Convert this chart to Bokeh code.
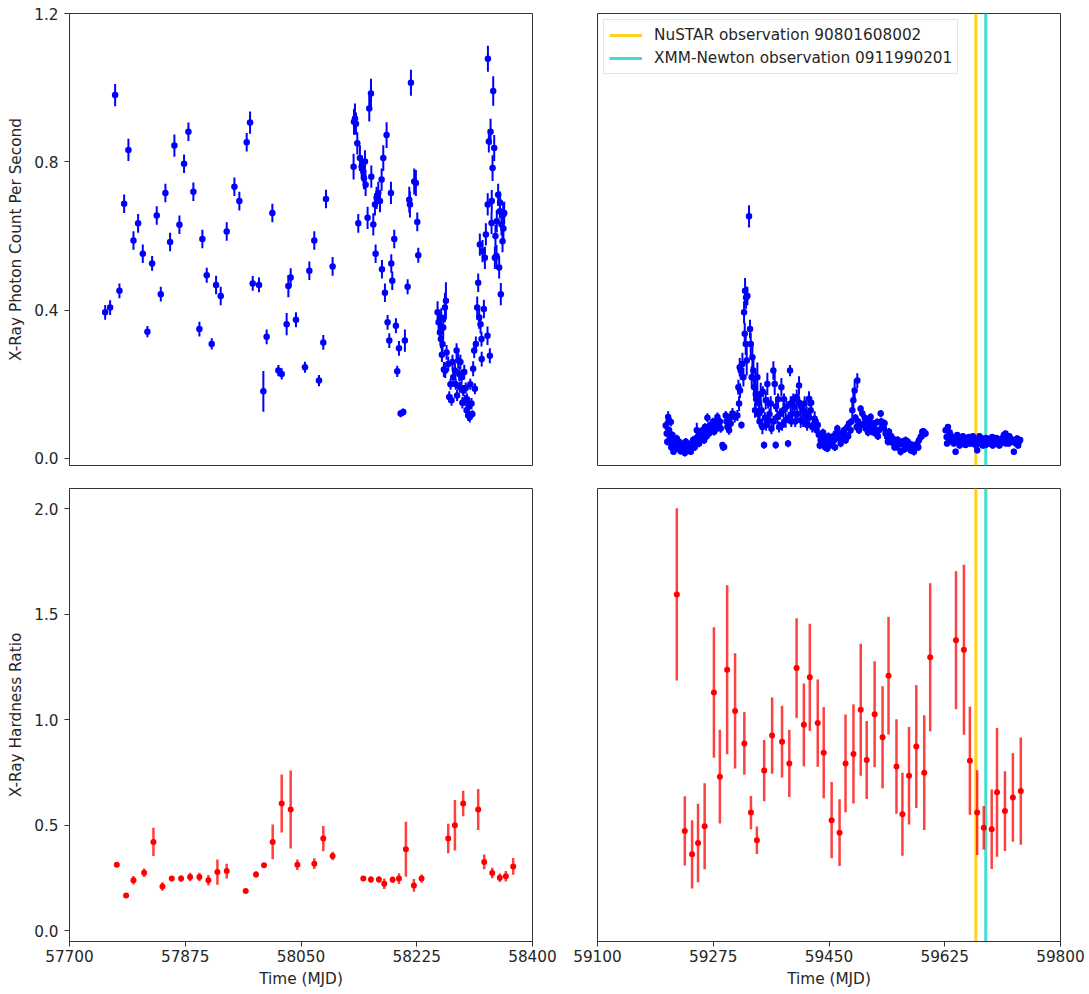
from bokeh.plotting import figure
from bokeh.models import (ColumnDataSource, Legend, LegendItem, FixedTicker,
                          Range1d, PrintfTickFormatter)
from bokeh.layouts import column, row
from bokeh.embed import file_html
from bokeh.resources import INLINE

FONT = "DejaVu Sans"

# ---------------- data ----------------
left_xticks = [57700, 57875, 58050, 58225, 58400]
right_xticks = [59100, 59275, 59450, 59625, 59800]
rate_yticks = [0.0, 0.4, 0.8, 1.2]
hr_yticks = [0.0, 0.5, 1.0, 1.5, 2.0]

nustar_mjd = 59672
xmm_mjd = 59687
nustar_label = "NuSTAR observation 90801608002"
xmm_label = "XMM-Newton observation 0911990201"

# top-left: count rate, 2016-2018 epoch
tl_mjd_a = [57753.9, 57761.4, 57769.0, 57775.5, 57782.6, 57789.1, 57796.7, 57803.7, 57810.8, 57817.8,
            57824.9, 57831.9, 57838.0, 57845.0, 57852.1, 57858.6, 57866.2, 57873.2, 57879.8, 57887.3,
            57896.4, 57900.9, 57907.5, 57915.0, 57921.6, 57928.6, 57937.7, 57949.3, 57956.8, 57967.9,
            57973.0, 57977.0, 57986.5, 57993.1, 57998.1, 58006.7, 58015.8, 58020.8, 58028.3, 58030.9,
            58034.4, 58042.4, 58056.0, 58062.6, 58070.1, 58077.2, 58083.7, 58087.8, 58097.8]
tl_rate_a = [0.394, 0.407, 0.980, 0.452, 0.687, 0.832, 0.588, 0.634, 0.552, 0.342,
             0.526, 0.655, 0.443, 0.716, 0.584, 0.844, 0.630, 0.795, 0.881, 0.719,
             0.349, 0.592, 0.494, 0.309, 0.468, 0.438, 0.612, 0.733, 0.694, 0.853,
             0.906, 0.472, 0.468, 0.181, 0.328, 0.662, 0.237, 0.228, 0.362, 0.465,
             0.488, 0.374, 0.246, 0.506, 0.588, 0.210, 0.313, 0.700, 0.518]
tl_err_a = [0.02, 0.02, 0.03, 0.02, 0.025, 0.03, 0.025, 0.025, 0.025, 0.015,
            0.02, 0.025, 0.02, 0.025, 0.025, 0.03, 0.025, 0.025, 0.025, 0.025,
            0.02, 0.025, 0.02, 0.015, 0.025, 0.025, 0.025, 0.025, 0.025, 0.025,
            0.03, 0.02, 0.02, 0.055, 0.02, 0.025, 0.015, 0.015, 0.03, 0.03,
            0.025, 0.02, 0.015, 0.025, 0.025, 0.015, 0.02, 0.025, 0.025]

tl_mjd_b = [58129.5, 58130.1, 58131.6, 58133.1, 58135.1, 58136.6, 58139.1, 58141.7, 58144.2, 58145.2,
            58146.7, 58147.7, 58150.7, 58153.2, 58155.8, 58156.3, 58159.3, 58161.8, 58162.8, 58164.3,
            58166.8, 58169.4, 58171.9, 58172.4, 58174.4, 58176.9, 58179.4, 58180.9, 58183.5, 58186.0,
            58186.5, 58188.0, 58191.0, 58193.5, 58195.5, 58198.1, 58200.6, 58204.6, 58207.1, 58211.2,
            58213.7, 58214.7, 58216.2, 58221.2, 58223.7, 58225.8, 58227.3]
tl_rate_b = [0.787, 0.908, 0.917, 0.903, 0.850, 0.634, 0.810, 0.787, 0.774, 0.756,
             0.801, 0.738, 0.649, 0.944, 0.984, 0.760, 0.631, 0.685, 0.552, 0.703,
             0.716, 0.694, 0.752, 0.510, 0.810, 0.447, 0.872, 0.367, 0.318, 0.716,
             0.526, 0.479, 0.592, 0.358, 0.235, 0.297, 0.121, 0.125, 0.318, 0.463,
             0.698, 0.685, 1.013, 0.747, 0.743, 0.638, 0.548]
tl_err_b = [0.035, 0.035, 0.04, 0.03, 0.03, 0.025, 0.035, 0.03, 0.03, 0.03,
            0.03, 0.03, 0.03, 0.035, 0.04, 0.03, 0.03, 0.03, 0.025, 0.03,
            0.03, 0.03, 0.03, 0.025, 0.035, 0.025, 0.035, 0.02, 0.02, 0.03,
            0.025, 0.025, 0.025, 0.02, 0.015, 0.02, 0.01, 0.01, 0.03, 0.02,
            0.035, 0.035, 0.035, 0.035, 0.035, 0.025, 0.02]

tl_mjd_c = [58256.5, 58258.0, 58260.0, 58261.5, 58264.0, 58265.0, 58267.6, 58268.1, 58269.1, 58270.1,
            58272.6, 58274.1, 58277.6, 58280.2, 58282.7, 58285.2, 58287.7, 58289.2, 58290.2, 58292.7,
            58295.3, 58296.8, 58297.8, 58300.3, 58302.8, 58305.3, 58307.8, 58310.3, 58311.9, 58312.9,
            58314.4, 58316.4, 58317.9, 58319.4, 58320.4, 58321.4, 58322.9, 58323.2, 58324.5, 58326.5,
            58328.0, 58329.5, 58332.0, 58332.3, 58332.6, 58334.0, 58335.5, 58336.6, 58338.1, 58338.4,
            58339.6, 58340.6, 58342.1, 58343.1, 58345.6, 58348.1, 58349.6, 58350.6, 58352.1, 58353.1,
            58354.7, 58355.7, 58357.2,
            58262.0, 58263.0, 58266.0, 58276.0, 58279.0, 58284.0, 58286.0, 58291.0, 58294.0, 58299.0,
            58301.0, 58304.0, 58306.0, 58309.0, 58344.0, 58346.0, 58351.0, 58356.0]
tl_rate_c = [0.394, 0.367, 0.340, 0.322, 0.309, 0.353, 0.407, 0.237, 0.425, 0.286,
             0.255, 0.166, 0.157, 0.219, 0.237, 0.291, 0.264, 0.228, 0.192, 0.219,
             0.183, 0.233, 0.157, 0.130, 0.116, 0.112, 0.148, 0.242, 0.291, 0.188,
             0.309, 0.407, 0.474, 0.380, 0.577, 0.362, 0.322, 0.268, 0.559, 0.403,
             0.541, 0.604, 0.331, 0.685, 1.078, 0.855, 0.277, 0.881, 0.635, 0.694,
             0.783, 0.991, 0.837, 0.541, 0.546, 0.711, 0.515, 0.667, 0.443, 0.631,
             0.586, 0.658, 0.662,
             0.38, 0.28, 0.24, 0.20, 0.26, 0.20, 0.17, 0.26, 0.15, 0.19,
             0.16, 0.14, 0.20, 0.12, 0.60, 0.64, 0.69, 0.62]
tl_err_c = [0.03, 0.03, 0.025, 0.025, 0.02, 0.03, 0.04, 0.02, 0.05, 0.02,
            0.02, 0.015, 0.015, 0.02, 0.02, 0.02, 0.02, 0.02, 0.015, 0.02,
            0.015, 0.02, 0.015, 0.015, 0.015, 0.015, 0.015, 0.02, 0.02, 0.015,
            0.02, 0.03, 0.025, 0.03, 0.03, 0.025, 0.02, 0.02, 0.03, 0.025,
            0.03, 0.03, 0.025, 0.03, 0.035, 0.03, 0.02, 0.035, 0.03, 0.03,
            0.035, 0.04, 0.035, 0.03, 0.03, 0.03, 0.03, 0.02, 0.03, 0.03,
            0.03, 0.03, 0.03,
            0.025, 0.02, 0.02, 0.015, 0.02, 0.015, 0.015, 0.02, 0.015, 0.015,
            0.015, 0.015, 0.015, 0.01, 0.03, 0.03, 0.03, 0.03]

# top-right: count rate, 2021-2022 epoch
tr_mjd_a = [59203.2, 59204.7, 59206.8, 59208.3, 59209.8, 59210.8, 59212.3, 59213.3, 59214.8, 59216.8,
            59218.3, 59219.9, 59221.9, 59223.4, 59224.9, 59226.9, 59228.4, 59230.9, 59233.5, 59236.0,
            59238.5, 59241.0, 59243.5, 59246.0, 59248.6, 59250.1, 59251.1, 59253.6, 59256.1, 59258.6,
            59261.2, 59263.7, 59266.2, 59268.7, 59271.2, 59273.7, 59276.3, 59278.8, 59281.3, 59283.8,
            59286.3, 59288.9, 59291.4, 59293.9, 59296.4, 59298.9, 59301.4,
            59205.5, 59207.5, 59211.5, 59215.5, 59217.5, 59220.5, 59222.5, 59225.5, 59229.5, 59232.0,
            59234.5, 59237.0, 59239.5, 59242.0, 59244.5, 59247.0, 59249.5, 59252.5, 59255.0, 59257.5,
            59260.0, 59262.5, 59265.0, 59270.0, 59275.0, 59280.0, 59285.0, 59290.0, 59295.0, 59300.0]
tr_rate_a = [0.089, 0.067, 0.112, 0.076, 0.054, 0.098, 0.040, 0.063, 0.018, 0.049,
             0.031, 0.054, 0.040, 0.045, 0.027, 0.040, 0.036, 0.031, 0.045, 0.022,
             0.036, 0.018, 0.031, 0.040, 0.045, 0.076, 0.049, 0.040, 0.058, 0.063,
             0.049, 0.072, 0.110, 0.067, 0.081, 0.085, 0.072, 0.094, 0.112, 0.089,
             0.081, 0.036, 0.031, 0.116, 0.085, 0.076, 0.094,
             0.045, 0.100, 0.030, 0.035, 0.025, 0.035, 0.030, 0.020, 0.025, 0.015,
             0.030, 0.040, 0.025, 0.035, 0.050, 0.030, 0.055, 0.060, 0.050, 0.075,
             0.070, 0.085, 0.060, 0.090, 0.100, 0.080, 0.100, 0.030, 0.100, 0.110]
tr_err_a = [0.012, 0.010, 0.015, 0.010, 0.010, 0.012, 0.008, 0.010, 0.008, 0.010,
            0.008, 0.010, 0.008, 0.010, 0.008, 0.008, 0.008, 0.008, 0.010, 0.008,
            0.008, 0.008, 0.008, 0.010, 0.010, 0.020, 0.010, 0.010, 0.010, 0.010,
            0.010, 0.012, 0.012, 0.010, 0.012, 0.012, 0.010, 0.012, 0.012, 0.012,
            0.012, 0.008, 0.008, 0.012, 0.012, 0.012, 0.012,
            0.010, 0.010, 0.010, 0.010, 0.010, 0.010, 0.010, 0.010, 0.010, 0.010,
            0.010, 0.010, 0.010, 0.010, 0.010, 0.010, 0.010, 0.010, 0.010, 0.010,
            0.010, 0.010, 0.010, 0.010, 0.010, 0.010, 0.010, 0.010, 0.010, 0.010]

tr_mjd_b = [59304.0, 59307.5, 59311.5, 59313.0, 59314.0, 59315.0, 59315.5, 59316.5, 59317.6, 59319.1,
            59320.6, 59321.6, 59322.6, 59323.1, 59324.1, 59324.6, 59325.6, 59326.6, 59329.1, 59330.6,
            59331.7, 59333.2, 59334.2, 59335.7, 59336.7, 59338.2, 59339.2, 59341.7, 59344.2, 59346.8,
            59349.3, 59351.8, 59354.3, 59356.8, 59359.4, 59361.9, 59365.9, 59367.9, 59369.4, 59371.9,
            59374.5, 59378.0, 59381.0, 59384.5, 59388.1, 59391.1, 59392.1, 59394.6, 59398.1, 59401.2,
            59404.7, 59407.2, 59409.7, 59413.2, 59416.3, 59419.8, 59422.3, 59424.8, 59428.3, 59431.4,
            59340.0, 59343.0, 59345.0, 59348.0, 59350.0, 59353.0, 59355.0, 59358.0, 59360.0, 59363.0,
            59366.0, 59370.0, 59373.0, 59376.0, 59379.0, 59382.0, 59386.0, 59389.0, 59393.0, 59396.0,
            59399.0, 59402.0, 59405.0, 59408.0, 59411.0, 59414.0, 59417.0, 59420.0, 59423.0, 59426.0,
            59429.0, 59433.0]
tr_rate_b = [0.121, 0.112, 0.116, 0.192, 0.148, 0.246, 0.183, 0.237, 0.090, 0.255,
             0.219, 0.394, 0.336, 0.452, 0.309, 0.434, 0.264, 0.438, 0.653, 0.349,
             0.309, 0.219, 0.273, 0.237, 0.192, 0.130, 0.174, 0.219, 0.148, 0.174,
             0.085, 0.036, 0.157, 0.201, 0.103, 0.148, 0.237, 0.201, 0.036, 0.112,
             0.085, 0.192, 0.130, 0.103, 0.040, 0.237, 0.148, 0.121, 0.139, 0.166,
             0.197, 0.103, 0.130, 0.148, 0.121, 0.161, 0.130, 0.085, 0.107, 0.076,
             0.16, 0.12, 0.10, 0.13, 0.18, 0.11, 0.09, 0.15, 0.12, 0.08,
             0.10, 0.14, 0.16, 0.12, 0.09, 0.16, 0.14, 0.11, 0.10, 0.16,
             0.10, 0.12, 0.15, 0.14, 0.10, 0.12, 0.09, 0.11, 0.15, 0.09,
             0.10, 0.09]
tr_err_b = [0.015, 0.015, 0.015, 0.02, 0.02, 0.025, 0.02, 0.025, 0.01, 0.03,
            0.025, 0.03, 0.03, 0.035, 0.03, 0.03, 0.04, 0.025, 0.03, 0.025,
            0.03, 0.03, 0.04, 0.03, 0.03, 0.02, 0.06, 0.04, 0.03, 0.03,
            0.02, 0.01, 0.025, 0.03, 0.02, 0.02, 0.025, 0.03, 0.01, 0.02,
            0.015, 0.025, 0.02, 0.02, 0.01, 0.015, 0.02, 0.02, 0.02, 0.02,
            0.025, 0.02, 0.02, 0.02, 0.02, 0.02, 0.02, 0.015, 0.02, 0.015,
            0.015, 0.015, 0.015, 0.015, 0.015, 0.015, 0.015, 0.015, 0.015, 0.015,
            0.015, 0.015, 0.015, 0.015, 0.015, 0.015, 0.015, 0.015, 0.015, 0.015,
            0.015, 0.015, 0.015, 0.015, 0.015, 0.015, 0.015, 0.015, 0.015, 0.015,
            0.015, 0.015]

tr_mjd_c = [59434.9, 59437.4, 59439.9, 59442.4, 59445.0, 59447.5, 59450.0, 59452.5, 59455.0, 59457.6,
            59460.1, 59462.6, 59465.1, 59467.6, 59470.1, 59472.7, 59475.2, 59477.7, 59480.2, 59482.7,
            59485.3, 59486.8, 59488.8, 59491.8, 59492.8, 59495.3, 59497.8, 59500.4, 59502.9, 59505.4,
            59507.9, 59510.4, 59512.9, 59515.5, 59518.0, 59520.5, 59523.0, 59525.5, 59528.1, 59530.6,
            59533.1, 59535.6, 59538.1, 59540.7, 59543.2, 59545.7, 59548.2, 59550.7, 59553.2, 59555.8,
            59558.3, 59560.8, 59563.3, 59565.8, 59568.3, 59570.9, 59573.4, 59575.9, 59578.4, 59580.9,
            59583.5, 59586.0, 59588.5, 59591.0, 59593.5, 59596.0,
            59436.0, 59441.0, 59444.0, 59449.0, 59454.0, 59459.0, 59464.0, 59469.0, 59474.0, 59479.0,
            59484.0, 59490.0, 59494.0, 59499.0, 59504.0, 59509.0, 59514.0, 59519.0, 59524.0, 59529.0,
            59534.0, 59539.0, 59544.0, 59549.0, 59554.0, 59559.0, 59564.0, 59569.0, 59574.0, 59579.0,
            59585.0, 59590.0]
tr_rate_c = [0.063, 0.049, 0.058, 0.040, 0.054, 0.027, 0.045, 0.036, 0.058, 0.049,
             0.067, 0.081, 0.054, 0.040, 0.063, 0.076, 0.049, 0.085, 0.094, 0.076,
             0.130, 0.157, 0.183, 0.085, 0.210, 0.076, 0.134, 0.121, 0.094, 0.081,
             0.103, 0.085, 0.112, 0.072, 0.094, 0.067, 0.098, 0.076, 0.121, 0.089,
             0.081, 0.067, 0.058, 0.072, 0.045, 0.054, 0.040, 0.049, 0.031, 0.040,
             0.018, 0.045, 0.036, 0.049, 0.031, 0.040, 0.022, 0.036, 0.018, 0.031,
             0.040, 0.049, 0.058, 0.072, 0.072, 0.067,
             0.035, 0.070, 0.030, 0.060, 0.040, 0.030, 0.070, 0.050, 0.065, 0.060,
             0.100, 0.110, 0.100, 0.090, 0.110, 0.070, 0.095, 0.080, 0.060, 0.100,
             0.095, 0.045, 0.060, 0.030, 0.050, 0.040, 0.025, 0.045, 0.035, 0.028,
             0.030, 0.060]
tr_err_c = [0.010, 0.010, 0.010, 0.010, 0.010, 0.010, 0.010, 0.010, 0.010, 0.010,
            0.010, 0.010, 0.010, 0.010, 0.010, 0.010, 0.010, 0.010, 0.010, 0.010,
            0.020, 0.020, 0.030, 0.010, 0.020, 0.010, 0.010, 0.010, 0.010, 0.010,
            0.010, 0.010, 0.010, 0.010, 0.010, 0.010, 0.010, 0.010, 0.010, 0.010,
            0.010, 0.010, 0.010, 0.010, 0.010, 0.010, 0.010, 0.010, 0.010, 0.010,
            0.010, 0.010, 0.010, 0.010, 0.010, 0.010, 0.010, 0.010, 0.010, 0.010,
            0.010, 0.010, 0.010, 0.010, 0.010, 0.010,
            0.010, 0.010, 0.010, 0.010, 0.010, 0.010, 0.010, 0.010, 0.010, 0.010,
            0.010, 0.010, 0.010, 0.010, 0.010, 0.010, 0.010, 0.010, 0.010, 0.010,
            0.010, 0.010, 0.010, 0.010, 0.010, 0.010, 0.010, 0.010, 0.010, 0.010,
            0.010, 0.010]

tr_mjd_d = [59626.3, 59627.8, 59629.8, 59631.3, 59633.8, 59636.3, 59638.9, 59641.4, 59643.9, 59646.4,
            59648.9, 59651.4, 59654.0, 59656.5, 59659.0, 59661.5, 59664.0, 59666.6, 59669.1, 59671.6,
            59674.1, 59676.6, 59679.1, 59681.7, 59684.2, 59686.7, 59689.2, 59691.7, 59694.2, 59696.8,
            59699.3, 59701.8, 59704.3, 59706.8, 59709.4, 59711.9, 59714.4, 59716.9, 59719.4, 59721.9,
            59724.5, 59727.0, 59729.5, 59732.0, 59734.5, 59737.1,
            59628.5, 59632.5, 59637.5, 59642.5, 59647.5, 59652.5, 59657.5, 59662.5, 59667.5, 59672.5,
            59677.5, 59682.5, 59687.5, 59692.5, 59697.5, 59702.5, 59707.5, 59712.5, 59717.5, 59722.5,
            59727.5, 59732.5, 59736.0, 59739.0]
tr_rate_d = [0.076, 0.058, 0.085, 0.049, 0.063, 0.045, 0.040, 0.018, 0.063, 0.054,
             0.049, 0.040, 0.054, 0.036, 0.045, 0.058, 0.049, 0.040, 0.054, 0.045,
             0.022, 0.049, 0.040, 0.054, 0.045, 0.036, 0.049, 0.040, 0.054, 0.058,
             0.045, 0.040, 0.054, 0.045, 0.040, 0.049, 0.063, 0.067, 0.049, 0.040,
             0.054, 0.045, 0.018, 0.049, 0.054, 0.045,
             0.040, 0.070, 0.055, 0.050, 0.035, 0.060, 0.050, 0.040, 0.060, 0.035,
             0.060, 0.035, 0.055, 0.050, 0.035, 0.055, 0.035, 0.055, 0.040, 0.060,
             0.050, 0.040, 0.035, 0.050]
tr_err_d = [0.008, 0.008, 0.008, 0.008, 0.008, 0.008, 0.008, 0.008, 0.008, 0.008,
            0.008, 0.008, 0.008, 0.008, 0.008, 0.008, 0.008, 0.008, 0.008, 0.008,
            0.008, 0.008, 0.008, 0.008, 0.008, 0.008, 0.008, 0.008, 0.008, 0.008,
            0.008, 0.008, 0.008, 0.008, 0.008, 0.008, 0.008, 0.008, 0.008, 0.008,
            0.008, 0.008, 0.008, 0.008, 0.008, 0.008,
            0.008, 0.008, 0.008, 0.008, 0.008, 0.008, 0.008, 0.008, 0.008, 0.008,
            0.008, 0.008, 0.008, 0.008, 0.008, 0.008, 0.008, 0.008, 0.008, 0.008,
            0.008, 0.008, 0.008, 0.008]

# bottom-left: hardness ratio, 2016-2018 epoch
bl_mjd = [57771.5, 57785.6, 57796.7, 57812.8, 57826.9, 57840.5, 57854.6, 57868.7, 57882.3, 57896.4,
          57910.0, 57923.6, 57937.7, 57966.4, 57982.0, 57994.1, 58007.2, 58020.8, 58034.4, 58044.5,
          58070.1, 58083.7, 58097.8, 58144.2, 58155.7, 58167.8, 58175.9, 58188.5, 58198.1, 58208.6,
          58220.7, 58232.3, 58272.6, 58282.7, 58295.2, 58317.9, 58327.0, 58339.1, 58350.6, 58359.7,
          58370.8]
bl_hr = [0.312, 0.166, 0.238, 0.274, 0.420, 0.209, 0.246, 0.246, 0.254, 0.254,
         0.238, 0.277, 0.282, 0.187, 0.266, 0.309, 0.420, 0.602, 0.574, 0.312,
         0.317, 0.436, 0.353, 0.246, 0.242, 0.242, 0.222, 0.241, 0.246, 0.385,
         0.214, 0.246, 0.436, 0.499, 0.602, 0.574, 0.325, 0.273, 0.250, 0.257,
         0.304]
bl_err = [0.01, 0.01, 0.02, 0.02, 0.067, 0.02, 0.012, 0.015, 0.02, 0.02,
          0.025, 0.06, 0.035, 0.01, 0.015, 0.01, 0.082, 0.137, 0.185, 0.025,
          0.025, 0.06, 0.02, 0.01, 0.015, 0.015, 0.025, 0.015, 0.025, 0.13,
          0.03, 0.02, 0.07, 0.12, 0.06, 0.097, 0.035, 0.025, 0.02, 0.025,
          0.04]

# bottom-right: hardness ratio, 2021-2022 epoch
br_mjd = [59219.9, 59232.0, 59243.0, 59252.0, 59262.0, 59276.0, 59285.0, 59296.0, 59308.0, 59322.0,
          59332.0, 59341.0, 59352.0, 59364.0, 59379.0, 59390.0, 59401.0, 59412.0, 59421.0, 59433.0,
          59442.0, 59454.0, 59466.0, 59475.0, 59487.0, 59498.0, 59507.0, 59519.0, 59531.0, 59540.0,
          59552.0, 59561.0, 59571.0, 59582.0, 59594.0, 59603.0, 59642.0, 59654.0, 59663.0, 59674.0,
          59684.0, 59696.0, 59704.0, 59716.0, 59728.0, 59740.0]
br_hr = [1.593, 0.472, 0.361, 0.415, 0.494, 1.128, 0.729, 1.236, 1.041, 0.887,
         0.559, 0.428, 0.758, 0.924, 0.895, 0.792, 1.244, 0.975, 1.200, 0.983,
         0.843, 0.523, 0.464, 0.792, 0.837, 1.046, 0.808, 1.025, 0.916, 1.208,
         0.777, 0.551, 0.734, 0.872, 0.748, 1.295, 1.376, 1.331, 0.805, 0.559,
         0.487, 0.480, 0.655, 0.566, 0.631, 0.661]
br_err = [0.408, 0.164, 0.162, 0.186, 0.204, 0.309, 0.222, 0.400, 0.273, 0.149,
          0.079, 0.065, 0.145, 0.181, 0.170, 0.159, 0.236, 0.196, 0.254, 0.207,
          0.216, 0.181, 0.158, 0.232, 0.235, 0.313, 0.185, 0.251, 0.242, 0.279,
          0.224, 0.197, 0.231, 0.291, 0.272, 0.351, 0.327, 0.403, 0.256, 0.201,
          0.103, 0.188, 0.305, 0.189, 0.210, 0.254]

# ---------------- styling ----------------
TEXT = "#262626"
EDGE = "#333333"
BLUE = "#0000ff"
RED = "#ff0000"
NU_COLOR = "#ffd21f"
XMM_COLOR = "#40e0d0"
FS = "15.3px"


def make_fig(xr, yr, show_x, show_y, mbl, mbr, mbt, mbb, fh):
    p = figure(x_range=Range1d(*xr), y_range=Range1d(*yr),
               frame_width=463, frame_height=fh,
               min_border_left=mbl, min_border_right=mbr,
               min_border_top=mbt, min_border_bottom=mbb,
               x_axis_location="below" if show_x else None,
               y_axis_location="left" if show_y else None,
               toolbar_location=None, tools="", output_backend="svg", title=None)
    p.grid.visible = False
    p.outline_line_color = EDGE
    p.outline_line_width = 1
    p.outline_line_alpha = 1
    p.background_fill_color = "white"
    p.border_fill_color = "white"
    for ax in p.axis:
        ax.axis_line_color = EDGE
        ax.axis_line_width = 1
        ax.major_tick_line_color = EDGE
        ax.major_tick_out = 5
        ax.major_tick_in = 0
        ax.minor_tick_line_color = None
        ax.major_label_text_font = FONT
        ax.major_label_text_font_size = FS
        ax.major_label_text_color = TEXT
        ax.axis_label_text_font = FONT
        ax.axis_label_text_font_size = FS
        ax.axis_label_text_font_style = "normal"
        ax.axis_label_text_color = TEXT
    return p


def errorbars(p, x, y, e, color, bar_width, bar_alpha, size):
    lo = [yi - ei for yi, ei in zip(y, e)]
    hi = [yi + ei for yi, ei in zip(y, e)]
    src = ColumnDataSource(dict(x=x, y=y, lo=lo, hi=hi))
    p.segment(x0="x", y0="lo", x1="x", y1="hi", source=src,
              line_color=color, line_width=bar_width, line_alpha=bar_alpha)
    p.scatter(x="x", y="y", source=src, marker="circle", size=size,
              fill_color=color, line_color=None)


def obs_lines(p, yr):
    nu = p.line(x=[nustar_mjd, nustar_mjd], y=list(yr), line_color=NU_COLOR,
                line_width=3, level="underlay")
    xm = p.line(x=[xmm_mjd, xmm_mjd], y=list(yr), line_color=XMM_COLOR,
                line_width=3, level="underlay")
    return nu, xm


rate_range = (-0.019, 1.2)
hr_range = (-0.052, 2.095)
left_range = (left_xticks[0], left_xticks[-1])
right_range = (right_xticks[0], right_xticks[-1])

# top-left
tl = make_fig(left_range, rate_range, False, True, 69, 32, 13, 11, 452)
tl.yaxis.ticker = FixedTicker(ticks=rate_yticks)
tl.yaxis.formatter = PrintfTickFormatter(format="%.1f")
tl.yaxis.axis_label = "X-Ray Photon Count Per Second"
tl.yaxis.major_label_standoff = 6
tl.yaxis.axis_label_standoff = 6
errorbars(tl, tl_mjd_a + tl_mjd_b + tl_mjd_c, tl_rate_a + tl_rate_b + tl_rate_c,
          tl_err_a + tl_err_b + tl_err_c, BLUE, 2, 1.0, 6.5)

# top-right
tr = make_fig(right_range, rate_range, False, False, 33, 25, 13, 11, 452)
nu_r, xmm_r = obs_lines(tr, rate_range)
errorbars(tr, tr_mjd_a + tr_mjd_b + tr_mjd_c + tr_mjd_d,
          tr_rate_a + tr_rate_b + tr_rate_c + tr_rate_d,
          tr_err_a + tr_err_b + tr_err_c + tr_err_d, BLUE, 2, 1.0, 6.5)
legend = Legend(items=[LegendItem(label=nustar_label, renderers=[nu_r]),
                       LegendItem(label=xmm_label, renderers=[xmm_r])],
                location="top_left", margin=6, padding=5, spacing=3,
                glyph_width=33, glyph_height=20, label_height=20, label_standoff=12,
                label_text_font=FONT, label_text_font_size=FS, label_text_color=TEXT,
                border_line_color="#cccccc", border_line_width=1,
                background_fill_color="white", background_fill_alpha=0.8)
tr.add_layout(legend)

# bottom-left
bl = make_fig(left_range, hr_range, True, True, 69, 32, 12, 50, 453)
bl.yaxis.ticker = FixedTicker(ticks=hr_yticks)
bl.yaxis.formatter = PrintfTickFormatter(format="%.1f")
bl.yaxis.axis_label = "X-Ray Hardness Ratio"
bl.yaxis.major_label_standoff = 6
bl.yaxis.axis_label_standoff = 6
bl.xaxis.ticker = FixedTicker(ticks=left_xticks)
bl.xaxis.axis_label = "Time (MJD)"
bl.xaxis.major_label_standoff = 3
bl.xaxis.axis_label_standoff = 5
errorbars(bl, bl_mjd, bl_hr, bl_err, RED, 2.5, 0.75, 6)

# bottom-right
br = make_fig(right_range, hr_range, True, False, 33, 25, 12, 50, 453)
obs_lines(br, hr_range)
br.xaxis.ticker = FixedTicker(ticks=right_xticks)
br.xaxis.axis_label = "Time (MJD)"
br.xaxis.major_label_standoff = 3
br.xaxis.axis_label_standoff = 5
errorbars(br, br_mjd, br_hr, br_err, RED, 2.5, 0.75, 6)

layout = column(row(tl, tr), row(bl, br))

open("out.html", "w").write(file_html(layout, INLINE, "X-ray light curves"))
